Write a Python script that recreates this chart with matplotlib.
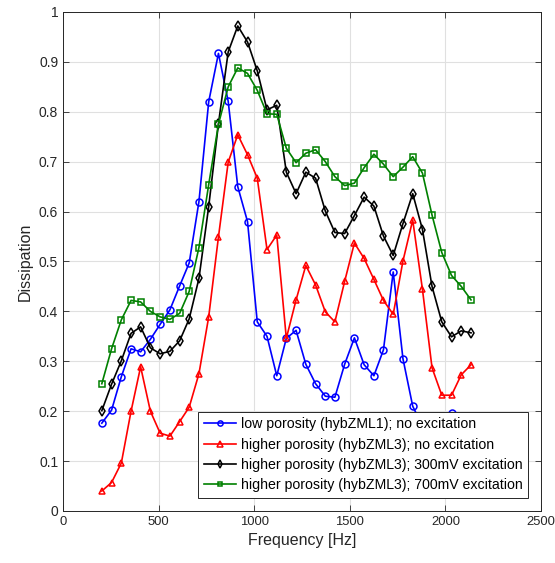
import matplotlib
matplotlib.use("Agg")
import matplotlib.pyplot as plt

freq = [203, 254, 305, 356, 406, 457, 508, 559, 610, 660, 711, 762, 813,
        864, 914, 965, 1016, 1067, 1118, 1168, 1219, 1270, 1321, 1372, 1422,
        1473, 1524, 1575, 1626, 1676, 1727, 1778, 1829, 1880, 1930, 1981,
        2032, 2083, 2134]

low_none = [0.176, 0.202, 0.269, 0.325, 0.319, 0.344, 0.374, 0.403, 0.451,
            0.497, 0.620, 0.820, 0.917, 0.821, 0.650, 0.580, 0.379, 0.350,
            0.271, 0.346, 0.362, 0.294, 0.255, 0.230, 0.228, 0.294, 0.347,
            0.293, 0.271, 0.323, 0.479, 0.305, 0.210, 0.170, 0.150, 0.160,
            0.196, 0.170, 0.160]

high_none = [0.040, 0.057, 0.096, 0.200, 0.289, 0.200, 0.156, 0.150, 0.179,
             0.208, 0.275, 0.389, 0.549, 0.699, 0.754, 0.714, 0.667, 0.524,
             0.553, 0.346, 0.423, 0.492, 0.453, 0.399, 0.379, 0.460, 0.537,
             0.506, 0.464, 0.422, 0.394, 0.501, 0.583, 0.444, 0.287, 0.232,
             0.232, 0.273, 0.293]

high_300 = [0.201, 0.254, 0.301, 0.356, 0.369, 0.327, 0.315, 0.320, 0.341,
            0.385, 0.466, 0.610, 0.776, 0.920, 0.972, 0.940, 0.882, 0.804,
            0.813, 0.679, 0.636, 0.679, 0.667, 0.601, 0.558, 0.556, 0.592,
            0.629, 0.611, 0.551, 0.512, 0.576, 0.636, 0.564, 0.450, 0.379,
            0.349, 0.361, 0.357]

high_700 = [0.255, 0.325, 0.383, 0.422, 0.419, 0.400, 0.389, 0.384, 0.396,
            0.440, 0.528, 0.654, 0.775, 0.850, 0.888, 0.877, 0.843, 0.796,
            0.795, 0.727, 0.698, 0.717, 0.724, 0.700, 0.670, 0.652, 0.657,
            0.688, 0.715, 0.695, 0.670, 0.689, 0.710, 0.677, 0.593, 0.518,
            0.472, 0.450, 0.423]

labels = ["low porosity (hybZML1); no excitation",
          "higher porosity (hybZML3); no excitation",
          "higher porosity (hybZML3); 300mV excitation",
          "higher porosity (hybZML3); 700mV excitation"]

plt.rcParams['font.family'] = ['Liberation Sans', 'DejaVu Sans']

fig = plt.figure(figsize=(5.55, 5.63), dpi=100)
ax = fig.add_axes([0.1135, 0.0924, 0.8613, 0.8863])

ax.plot(freq, low_none, '-o', color='blue', lw=1.2, ms=5, mfc='none', mew=1.1, label=labels[0])
ax.plot(freq, high_none, '-^', color='red', lw=1.2, ms=5, mfc='none', mew=1.1, label=labels[1])
ax.plot(freq, high_300, '-d', color='black', lw=1.2, ms=5, mfc='none', mew=1.1, label=labels[2])
ax.plot(freq, high_700, '-s', color='green', lw=1.2, ms=4.2, mfc='none', mew=1.1, label=labels[3])

ax.set_xlim(0, 2500)
ax.set_ylim(0, 1)
ax.set_xticks(range(0, 2501, 500))
ax.set_yticks([i / 10 for i in range(11)])
ax.set_yticklabels(['0'] + ['%.1f' % (i / 10) for i in range(1, 10)] + ['1'])
ax.grid(True, color='#e0e0e0', lw=0.8)
ax.set_axisbelow(True)
ax.tick_params(direction='in', top=True, right=True, length=4, labelsize=10,
               colors='#262626', width=0.6)
ax.tick_params(axis='x', labelsize=9.4)
for s in ax.spines.values():
    s.set_color('#262626')
    s.set_linewidth(0.7)

ax.set_xlabel('Frequency [Hz]', fontsize=11.5, color='#262626')
ax.set_ylabel('Dissipation', fontsize=11.5, color='#262626')

leg = ax.legend(loc='lower right', bbox_to_anchor=(0.973, 0.026), fontsize=10.2,
                fancybox=False, framealpha=1, edgecolor='#262626',
                handlelength=2.3, markerscale=0.75, borderpad=0.4,
                labelspacing=0.45, handletextpad=0.3, borderaxespad=0)
leg.get_frame().set_linewidth(0.7)

plt.savefig("out.png", dpi=100)
